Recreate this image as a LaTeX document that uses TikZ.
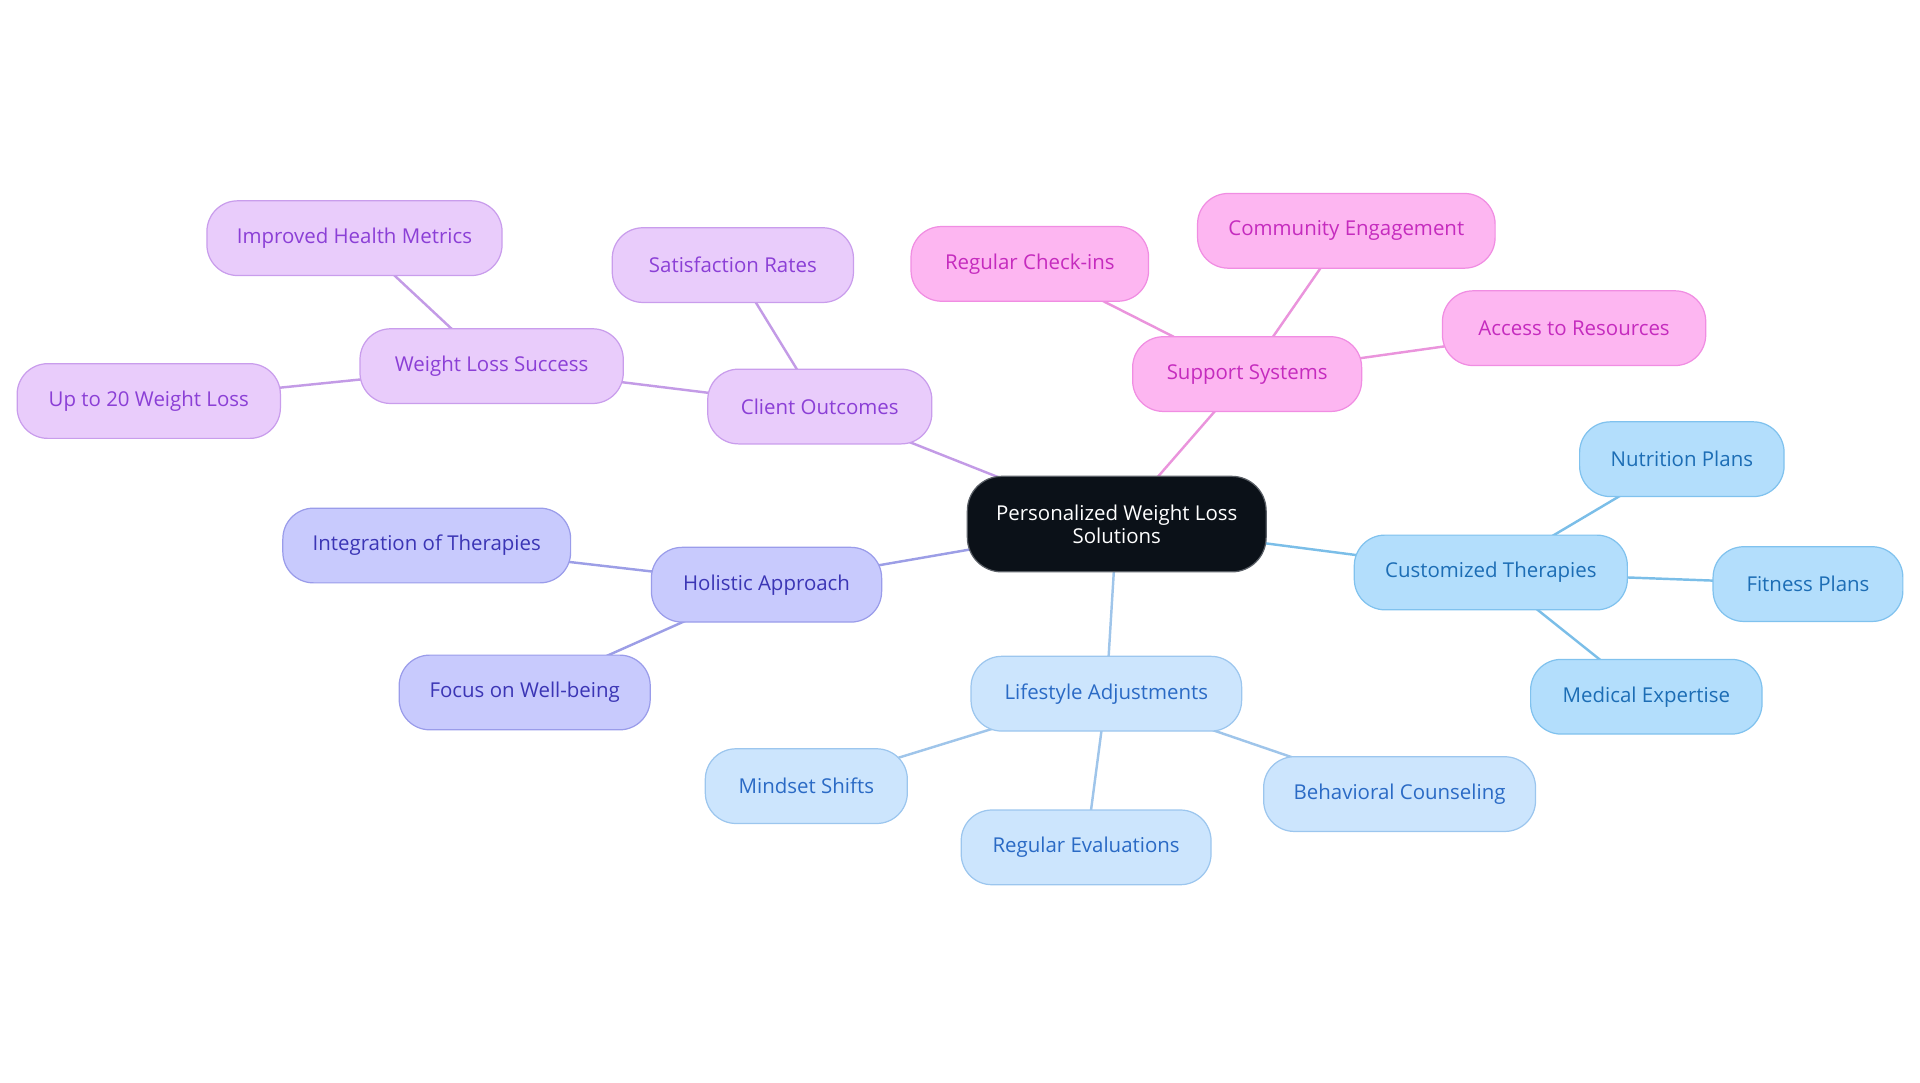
\documentclass[tikz,border=0pt]{standalone}
\usepackage{fontspec}
\setmainfont{Open Sans}
\usetikzlibrary{backgrounds}
\definecolor{pfill}{HTML}{E9CCFB}\definecolor{pdraw}{HTML}{C99DEC}\definecolor{ptext}{HTML}{8B3FD6}\definecolor{pline}{HTML}{C39BE6}
\definecolor{kfill}{HTML}{FDB6F1}\definecolor{kdraw}{HTML}{F08DE2}\definecolor{ktext}{HTML}{C52BBE}\definecolor{kline}{HTML}{EA94DC}
\definecolor{bfill}{HTML}{B3DEFC}\definecolor{bdraw}{HTML}{80C2EE}\definecolor{btext}{HTML}{1C6DB5}\definecolor{bline}{HTML}{7BBEE8}
\definecolor{lfill}{HTML}{CCE5FD}\definecolor{ldraw}{HTML}{9CC6EE}\definecolor{ltext}{HTML}{2A6AC5}\definecolor{lline}{HTML}{9FC5EA}
\definecolor{ifill}{HTML}{C8CAFD}\definecolor{idraw}{HTML}{9A9CEA}\definecolor{itext}{HTML}{3B35B5}\definecolor{iline}{HTML}{9C9EE6}
\definecolor{rootfill}{HTML}{0B1118}\definecolor{rootdraw}{HTML}{5A5F66}
\tikzset{
  box/.style={rounded corners=25pt, inner sep=0pt, minimum height=61pt, align=center, line width=1pt,
    font=\fontsize{16.7}{19}\selectfont},
  pbox/.style={box, fill=pfill, draw=pdraw, text=ptext},
  kbox/.style={box, fill=kfill, draw=kdraw, text=ktext},
  bbox/.style={box, fill=bfill, draw=bdraw, text=btext},
  lbox/.style={box, fill=lfill, draw=ldraw, text=ltext},
  ibox/.style={box, fill=ifill, draw=idraw, text=itext},
  rootbox/.style={box, rounded corners=28pt, fill=rootfill, draw=rootdraw, text=white, minimum height=78pt},
  edge/.style={line width=2pt},
}
\begin{document}
\begin{tikzpicture}[x=1pt,y=-1pt]
\useasboundingbox (0,0) rectangle (1568,884.4);
\node[rootbox, minimum width=244pt] (root) at (912,428) {Personalized Weight Loss\\Solutions};
% purple
\node[pbox, minimum width=183pt] (co) at (669.5,332) {Client Outcomes};
\node[pbox, minimum width=215pt] (wls) at (401.5,299) {Weight Loss Success};
\node[pbox, minimum width=241pt] (ihm) at (289.5,194.5) {Improved Health Metrics};
\node[pbox, minimum width=215pt] (up20) at (121.5,327.5) {Up to 20 Weight Loss};
\node[pbox, minimum width=197pt] (sat) at (598.5,216.5) {Satisfaction Rates};
% pink
\node[kbox, minimum width=187pt] (ss) at (1018.5,305.5) {Support Systems};
\node[kbox, minimum width=194pt] (rci) at (841,215.5) {Regular Check-ins};
\node[kbox, minimum width=243pt] (ce) at (1099.5,188.5) {Community Engagement};
\node[kbox, minimum width=215pt] (atr) at (1285.5,268) {Access to Resources};
% blue
\node[bbox, minimum width=223pt] (ct) at (1217.5,467.5) {Customized Therapies};
\node[bbox, minimum width=167pt] (np) at (1373.5,375) {Nutrition Plans};
\node[bbox, minimum width=155pt] (fp) at (1476.5,477) {Fitness Plans};
\node[bbox, minimum width=189pt] (me) at (1344.5,569) {Medical Expertise};
% light blue
\node[lbox, minimum width=221pt] (la) at (903.5,566.5) {Lifestyle Adjustments};
\node[lbox, minimum width=165pt] (ms) at (658.5,642) {Mindset Shifts};
\node[lbox, minimum width=204pt] (re) at (887,692) {Regular Evaluations};
\node[lbox, minimum width=222pt] (bc) at (1143,648.5) {Behavioral Counseling};
% indigo
\node[ibox, minimum width=188pt] (ha) at (626,477.5) {Holistic Approach};
\node[ibox, minimum width=235pt] (iot) at (348.5,445.5) {Integration of Therapies};
\node[ibox, minimum width=205pt] (fwb) at (428.5,565.5) {Focus on Well-being};
\begin{scope}[on background layer]
\draw[edge, pline] (root.center) -- (co.center);
\draw[edge, pline] (co.center) -- (wls.center);
\draw[edge, pline] (co.center) -- (sat.center);
\draw[edge, pline] (wls.center) -- (ihm.center);
\draw[edge, pline] (wls.center) -- (up20.center);
\draw[edge, kline] (root.center) -- (ss.center);
\draw[edge, kline] (ss.center) -- (rci.center);
\draw[edge, kline] (ss.center) -- (ce.center);
\draw[edge, kline] (ss.center) -- (atr.center);
\draw[edge, bline] (root.center) -- (ct.center);
\draw[edge, bline] (ct.center) -- (np.center);
\draw[edge, bline] (ct.center) -- (fp.center);
\draw[edge, bline] (ct.center) -- (me.center);
\draw[edge, lline] (root.center) -- (la.center);
\draw[edge, lline] (la.center) -- (ms.center);
\draw[edge, lline] (la.center) -- (re.center);
\draw[edge, lline] (la.center) -- (bc.center);
\draw[edge, iline] (root.center) -- (ha.center);
\draw[edge, iline] (ha.center) -- (iot.center);
\draw[edge, iline] (ha.center) -- (fwb.center);
\end{scope}
\end{tikzpicture}
\end{document}
